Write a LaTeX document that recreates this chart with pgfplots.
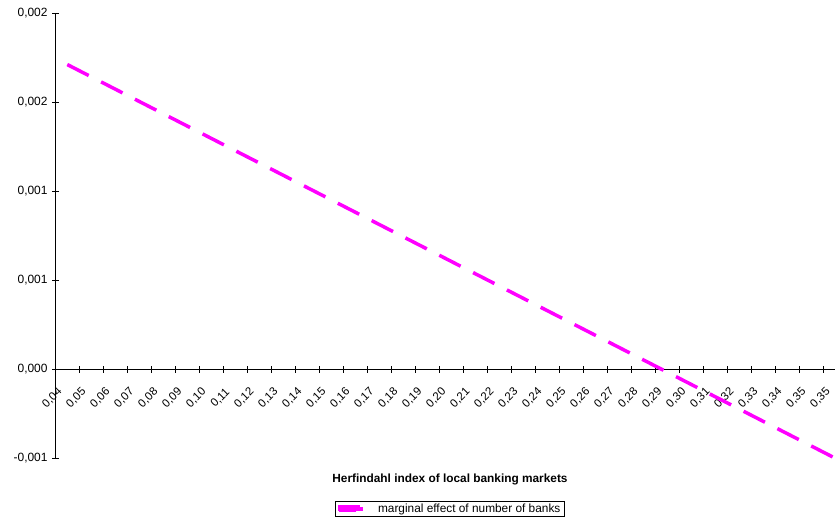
\documentclass[border=0pt]{standalone}
\usepackage{fontspec}
\setmainfont{Liberation Sans}
\usepackage{pgfplots}
\pgfplotsset{compat=1.18}
\definecolor{magline}{RGB}{255,0,255}

\begin{document}
\begin{tikzpicture}
\useasboundingbox (0bp,0bp) rectangle (835bp,521bp);
\begin{axis}[
  at={(55.3bp,62.7bp)}, anchor=south west,
  scale only axis, width=780bp, height=445bp,
  xmin=0, xmax=32.5, ymin=-0.0005, ymax=0.002,
  axis x line=middle, axis y line=left,
  axis line style={-, line width=0.9bp, black},
  hide obscured x ticks=false, hide obscured y ticks=false,
  tick align=center, major tick length=6.5bp,
  tick style={line width=0.9bp, black},
  xtick={0,1,...,32},
  xticklabels={{0,04},{0,05},{0,06},{0,07},{0,08},{0,09},{0,10},{0,11},{0,12},{0,13},{0,14},
    {0,15},{0,16},{0,17},{0,18},{0,19},{0,20},{0,21},{0,22},{0,23},{0,24},{0,25},{0,26},
    {0,27},{0,28},{0,29},{0,30},{0,31},{0,32},{0,33},{0,34},{0,35},{0,35}},
  ytick={-0.0005,0,0.0005,0.001,0.0015,0.002},
  yticklabels={{-0,001},{0,000},{0,001},{0,001},{0,002},{0,002}},
  scaled y ticks=false,
  yticklabel style={font=\fontsize{12}{14}\selectfont, anchor=east, xshift=-1bp},
  xticklabel style={font=\fontsize{11.5}{13}\selectfont,
    xshift=-3bp, yshift=-25.5bp, rotate=45, anchor=center},
  xlabel={Herfindahl index of local banking markets},
  xlabel style={at={(axis description cs:0.506,-0.047)}, anchor=center,
    font=\fontsize{11.9}{14}\selectfont\bfseries},
  legend style={at={(axis description cs:0.506,-0.1135)}, anchor=center,
    draw=black, line width=0.75bp, font=\fontsize{11.9}{14}\selectfont,
    inner xsep=2bp, inner ysep=0.5bp,
    /tikz/every odd column/.append style={column sep=11bp}},
  legend cell align=left,
  legend image code/.code={\fill[magline] (0bp,-1.75bp) rectangle (24bp,1.75bp);},
]
\addplot[magline, line width=3.5bp, dash pattern=on 24bp off 14bp]
  coordinates {(0.5,0.001712) (32.5,-0.0005)};
\addlegendentry{marginal effect of number of banks}
\end{axis}
\end{tikzpicture}
\end{document}
